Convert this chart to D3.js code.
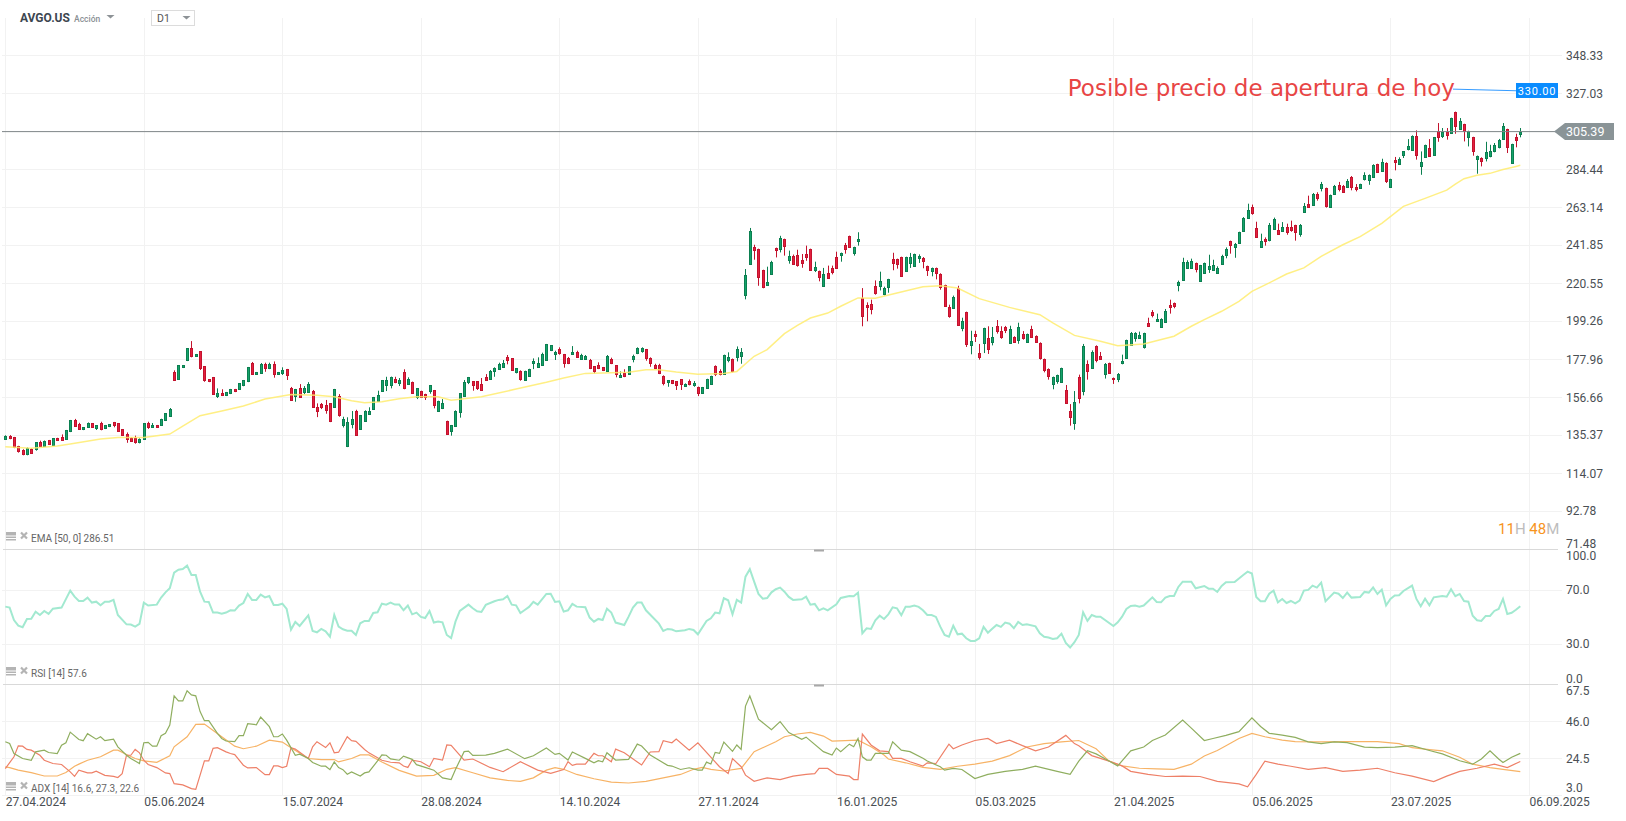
<!DOCTYPE html>
<html>
<head>
<meta charset="utf-8">
<title>AVGO.US</title>
<script src="https://cdn.jsdelivr.net/npm/d3@7"></script>
<style>
  html, body { margin: 0; background: #fff; }
  svg { display: block; }
  text { font-family: Roboto, sans-serif; }
</style>
</head>
<body>
<div id="chart"></div>
<script>
// open, high, low, close per daily candle
const candles = [
[133.5,135.2,133,135],[135,135.3,133,133.8],[134,134.3,128,128.4],[129,129.3,125.5,126],[127,127.4,124,124.6],[124.6,128.4,124,128.2],[127.8,128,125,125.6],[127,131.4,126.6,131.2],[131.4,132.2,128.8,129.2],[129.2,132.3,128.8,132],
[132.4,132.6,130,130.3],[129.7,133.7,129.5,133.5],[133.5,133.8,132,132.2],[134.2,135.7,132.2,132.5],[133.1,138.2,132.8,138],[137.2,143.8,137,143.6],[143.8,144.4,140.4,140.6],[141.5,142.2,138.2,138.7],[138.3,139.8,138.1,139.6],[139.5,142.4,139.3,141.9],
[141.9,142.1,139.3,139.5],[139.1,140.9,138.2,140.8],[141.9,142.8,138,138.7],[138.9,141,138.7,140.8],[140,141.5,139.8,141.3],[142.5,142.7,139.7,141],[141.9,142.1,137.4,137.6],[138.5,138.7,134.8,135],[135.7,136.8,131,132.9],[133.9,134.1,132,132.2],
[133.9,135,130.5,131.6],[131.6,133.5,130.7,133.3],[133,142.1,132.8,141.9],[142.1,142.8,138.8,139.7],[139.7,142.1,139.5,141],[140.8,141,139.3,139.5],[141.1,144.5,140.9,144.3],[143.4,147.7,143.2,147.5],[146.2,150.5,146,149.9],[170.7,171.6,166.2,166.4],
[166.4,174.6,166.2,174.4],[173.1,174.6,172.9,174.4],[177.2,184.1,176.8,183.9],[183.9,188,178.9,179.3],[179.3,180.8,179.1,180.6],[182.2,182.4,171.8,172.9],[173.8,174,165.2,165.8],[166.5,166.7,165,165.2],[167.7,167.9,157.8,158],[157,161.5,156.1,158.7],
[158.7,161,157.2,157.4],[157.4,159.5,157.2,159.3],[158.5,161.2,158.3,161],[161,161.2,159.4,159.6],[160.8,164.5,160.6,164.3],[163.4,166.2,162.7,166],[165.2,173.5,165,173.3],[175.7,176.3,169.5,169.7],[169.2,170.7,169,170.5],[170.3,175.7,170.1,175.1],
[175.1,175.9,170.8,173],[172.9,175.9,172.3,175],[175.1,176.6,167.5,169.7],[169.2,170.7,169,170.5],[170.3,173.3,169,171.8],[172.2,172.4,166.2,168.6],[161.7,162.3,155,155.2],[157.2,161.2,154,161],[161.7,163.9,156.6,156.8],[159.5,162.8,158.3,161.5],
[159.6,165,159.4,163.9],[159.8,160.6,150.5,150.7],[150.9,153.1,145.4,148.8],[152.5,153.3,149.9,151],[152,155,147.3,149.4],[153.1,153.3,142.6,142.8],[150.7,161.2,150.5,161],[157,158.3,145.6,146.2],[141,145.6,139.6,144.3],[128.8,145.3,128.6,142.5],
[141.3,148.8,139.1,144.3],[148.8,149.5,135.3,135.5],[138.7,146.6,138.2,146.4],[143.4,149.2,143.2,149],[146.9,150.9,146.7,148.8],[149.9,156.7,149.7,156.5],[154.4,160.2,154.2,157.8],[160,166.2,159.8,166],[163.4,168,160,166.2],[163.4,168.1,161.5,167.9],
[166.5,168,164.4,164.9],[164.5,167.3,162.8,166.2],[170.5,172.2,161,161.5],[163.9,167.7,163.7,166.5],[165.1,165.3,158.5,158.7],[156.5,161.7,155.5,161.5],[160,160.2,156.1,156.8],[158.3,158.5,155,156.5],[160,163.4,158.5,163.2],[160.4,160.6,150.3,152.2],
[149,154.6,148.8,154.4],[150.1,155.5,149.9,153.1],[143.2,143.4,135.8,136],[137.5,141,135,140.8],[140.6,149.2,140.4,149],[147.9,158.9,145.1,158.7],[157.2,166.2,157,165.2],[165,167.9,163.9,167.7],[165.4,165.6,160.2,163.4],[165.4,165.6,160.6,161.5],
[163.9,167.3,160.6,160.8],[167.9,169.5,166,166.2],[166.4,171.8,166.2,171],[171.2,173.3,168,173.1],[172.3,175.9,172.1,175.1],[173.6,177.4,173.4,175.7],[179.1,180.2,175,177.4],[178.3,178.5,171.6,171.8],[170.5,172.9,169.9,172.7],[171.4,171.6,165.8,166.7],
[166.4,171.4,166.2,171.2],[168.6,172.5,168.4,172.3],[175.3,178.3,172.3,176.6],[173.6,178.9,173.4,175.7],[174.8,181.5,174.6,180.7],[177.2,186.4,177,186.2],[182.6,185.8,182.4,185.6],[180.4,182.6,177.4,181.7],[183.5,184.5,180.4,181.3],[180.6,180.8,173.1,175.3],
[178.5,179.1,175.1,175.7],[180.4,185.2,180.2,181.7],[181.9,182.6,178.7,179.3],[178.1,180.9,177.9,180.2],[177.6,180.2,177.4,179.4],[177.4,178,172.3,172.9],[173.8,174,169.9,170.8],[174.4,176.1,172.3,172.5],[173.3,173.5,171.2,171.4],[171.4,180.2,171.2,179.6],
[177.8,178.7,175.1,175.7],[174.4,174.6,167.7,169.5],[167.5,171,167.3,168.8],[169.9,172.2,167.8,168],[169.4,173.8,169.2,173.8],[178.1,180.4,176.1,179.6],[180.9,184.5,180.7,183.9],[182.2,184.5,181.5,183.9],[183.4,183.6,177,178.1],[178.5,178.9,173.6,175.9],
[174.6,175.3,172.3,172.9],[174.6,175.3,169.5,169.9],[168.2,168.8,163.2,164.1],[164.7,166.2,162.4,166],[166,166.2,163.9,164.5],[165.4,165.6,160.6,163],[166.5,166.7,160.6,163.6],[163,164.3,162.4,164.1],[165.6,166.5,163.2,164.1],[163,165.6,162.4,164.3],
[162.3,162.5,157.2,158.9],[158.7,162.3,158.5,162.1],[161.9,166.9,161.7,166.7],[163.7,168.6,163.5,168.4],[174.2,174.4,168.4,169.7],[171.4,172.2,168.8,169.7],[169.7,180.4,169.5,180.2],[177.8,181.7,176.1,179.3],[178,178.2,170.5,171.4],[178.9,185,176.6,183.6],
[179.4,184.1,175.3,181.9],[213.7,228.4,211.4,225],[231,251.4,230.8,249.7],[240.9,242,233.6,239.4],[239.6,239.8,219,223.7],[227.8,228,217.6,218.1],[219.6,229.7,219,221.1],[226,233,225.6,232.5],[240.2,240.4,234.9,238.9],[239.4,247,237.7,245.8],
[245.2,245.4,235.9,241.1],[233.8,238.7,231.4,235.9],[235.9,236.5,231.4,231.6],[236.2,239.2,229.7,230.8],[233.6,236.8,229.1,232.1],[237,241.5,233,235.3],[239.6,239.8,227.6,228],[228.2,232.5,226.7,229.7],[227.3,227.5,221.5,223.7],[219.2,229,219,225.8],
[226.2,230.3,223,223.5],[229.1,230.3,225.4,226.9],[235.1,238.1,228.6,228.8],[236.1,237.6,232.5,237.4],[242,243,237,240],[246.9,247.1,240.3,240.5],[237.5,240.9,235.9,240.7],[243.9,249,241.5,245.2],[212.2,217.7,196.3,201.9],[208.2,209.7,199.1,206.9],
[208.8,211.2,203,205.8],[218.9,222,214,214.8],[218.7,226.9,216.4,221.7],[214.2,218.5,213.6,217.7],[218.5,222.9,215.1,222.8],[234,237.5,227.7,231.6],[234,234.2,228.6,231],[235.1,235.3,224.1,224.3],[227.1,235.3,226.9,235.1],[231.6,237.4,229,235.1],
[229.9,237,229.7,236.8],[234.4,236.6,231.8,235.7],[234.6,235.1,228.8,232.7],[230.1,230.3,224.5,227.7],[227.1,229.2,224.3,229],[229,229.2,222.6,226],[225.8,226,216.8,218.7],[219.4,219.6,207.3,207.5],[207.1,208.4,201.1,201.9],[206.4,213.5,206.2,212.7],
[217.7,219,196.6,196.8],[195.2,201.1,193.5,199.3],[204.3,204.5,184.7,186.5],[185.8,193.8,180.6,188],[191.9,193.8,187.5,190.6],[181.3,186.4,177.6,178.9],[186.7,195.5,181.3,195.3],[189.7,196.3,180.8,183.8],[187.9,195.9,185.6,190.5],[196.6,199.8,192.2,194],
[193.8,196.3,189.3,190.5],[196,196.5,192.5,194.4],[187.3,196.6,187.1,195],[190.5,190.7,187.3,187.7],[188.9,198.3,186.5,196],[192.2,193.6,188.8,189.9],[187.7,192.2,187.3,192],[195,196.6,190.4,190.6],[191,191.2,187.7,187.9],[187.1,187.3,177.6,178.9],
[178,178.2,170.5,171.6],[172.5,172.7,166.4,168.8],[163.8,168.1,161,167.9],[165.8,169.2,164.1,169],[164.9,173.1,164.7,172.9],[160.8,163.4,153.5,153.7],[149,152.7,140.6,145.8],[141.9,160,138.3,153.9],[167.9,169.2,153.1,155.9],[160.4,186.4,157.6,185.4],
[175.3,177.2,166.4,171.6],[173.3,182.8,173.1,182.1],[185.4,185.6,176.1,177.8],[179.8,181.9,178,178.3],[169.9,175.7,167,175.3],[175.7,175.9,170.1,170.3],[167.1,167.6,164,166.3],[166.9,170.1,165,169.5],[175.5,180.4,175,176.9],[178.7,188.8,178.3,188.6],
[186.2,193.1,186,192.7],[189.9,193,187.7,192.7],[190.1,193.3,189.9,191.6],[184.7,192.7,183.8,192.5],[198.1,201.1,196.3,196.6],[204.5,205.4,201.3,203],[199.1,203.4,198.9,200.4],[195.7,200.8,195.5,200.4],[198.5,206,198.3,204.9],[208.2,211.2,203.4,206.9],
[209.4,209.6,206.4,207.5],[219.2,221.9,215.9,221.1],[222,234.7,221.8,232.3],[229.3,233.3,228.4,232.5],[229,234.2,228.4,232.9],[231.8,232,226.5,228.2],[221.7,230.7,221.5,230.5],[226,232,225.8,231.8],[228.6,236.4,226.2,230.1],[227.8,233.6,227.6,230.6],
[226.2,229.9,226,229],[231.4,236.4,230.8,235.7],[236,240.5,234.4,239.6],[244.1,244.3,237,241.7],[240.5,243,234.7,242.4],[242.8,249.3,242.6,249.1],[249.7,257.5,249.5,257],[257.4,265,257.2,261.7],[263.1,264.5,258.8,259.6],[251.4,254.9,245.9,246.1],
[241.1,248.2,240.9,244.3],[245.4,246.1,241.5,244.1],[244.8,254.2,243.9,253.2],[250.6,257.2,250.4,256.4],[250.4,253.8,248.2,248.4],[249.5,254.7,249.3,251.9],[251.9,253.8,247.6,249],[251.9,255.5,249.3,250.4],[253,253.2,244.3,249.3],[248.4,253.6,246.5,253.2],
[260.7,265.4,260.5,263.9],[265,269.5,263.3,263.5],[264.6,271,263.9,270.6],[270.6,271.4,266.7,268.4],[274.2,277.2,271.9,276.2],[273.8,274,262.8,263.9],[263,270.1,262.8,269.9],[270.2,275.5,270,274.9],[275.7,277.2,271.9,273.4],[274.9,275.5,271.2,271.4],
[274.2,278.8,274,277.7],[280,280.5,272.5,274.2],[274.3,276,271.9,272.9],[273.6,276.2,273.4,276],[279.2,282.6,278,281.2],[278.4,281.4,275.6,281.2],[280.1,287.1,279.9,286.9],[287.2,287.4,282.4,282.6],[283.1,290.2,282.9,288.4],[288,288.2,276.6,278],
[274.3,279,274.1,278.8],[289.6,291.2,283.7,288.2],[287.4,291,287.2,290.2],[291.9,294.5,290.6,294.3],[295.6,301.2,294.9,297.5],[295.3,303.3,295.1,303.1],[303.1,306.1,289.7,292.5],[285.9,294.3,281.2,288.4],[291.3,298.1,291.1,297.9],[296.2,301.2,291.5,291.7],
[292.1,302.4,291.9,302.2],[305.9,310.2,299.7,302.7],[302.9,307.4,301.8,305],[305,307.4,300.9,303.1],[304.4,313.2,304.2,313],[316.4,316.6,304.2,308.3],[307.2,313,307,311.5],[309.6,309.8,299.9,305.5],[302.2,305.9,297.1,305.7],[302.3,302.5,291.9,294.3],
[290,292,281.8,291.5],[290.4,291,285.9,288.5],[291,299.7,288.7,294.1],[291.9,298,291,294.7],[294.3,299,293.8,297.9],[297.1,301.3,296,300.9],[301.6,310.2,301.4,308.7],[306.8,307,293.4,296.6],[287.6,298.6,287.4,298.4],[302.5,304.2,296.6,301],
[304.4,307.4,302.2,305.39]
];

// 50 day EMA as [candle, price]
const emaPoints = [[0,128.8],[6,127.9],[12,129.2],[15,130.3],[22,133.1],[26,133.9],[32,134],[38,135.9],[41,140.4],[45,146.2],[50,148.8],[55,151.6],[60,155.5],[66,158],[72,157.6],[76,156.8],[80,154.6],[83,153.5],[87,154],[91,155.7],[95,156.8],[100,156.8],[103,154.8],[110,156.8],[118,161.1],[125,164.9],[129,167.3],[134,169.9],[140,170.3],[144,170.5],[148,172],[151,172],[155,170.7],[160,169.4],[166,169.9],[169,171],[173,179.5],[176,183.2],[180,192.2],[183,196.8],[186,200.9],[190,203.7],[193,207.5],[197,212.2],[201,212],[206,214.9],[212,218.5],[216,219],[220,217.7],[225,211.8],[232,206.9],[239,202.8],[242,198.2],[247,191.2],[253,187.9],[257,185.4],[263,186.4],[270,190.7],[274,196.3],[277,200],[281,204.7],[285,210.3],[288,215.9],[292,220.6],[296,225.6],[300,229],[304,235.5],[309,242],[313,246.5],[318,254],[323,263.5],[328,268],[333,272.6],[335,276],[337,279],[340,280.9],[343,282],[346,284.2],[349,285.9],[350,286.51]];

// RSI 14 as [candle, value]
const rsiPoints = [[0,57.3],[1,56.6],[2,47.4],[3,43.2],[4,42],[5,48.2],[6,48.4],[7,53.6],[8,51.1],[9,54.1],[10,51.9],[11,55.8],[13,56.6],[15,69.2],[16,64.7],[17,61.5],[18,61.5],[19,64],[20,60.3],[21,61],[22,58.3],[23,61],[24,61],[25,62.3],[26,51.1],[28,44.2],[29,44],[30,42.5],[31,44.5],[32,60.3],[33,58.1],[35,58.8],[36,64],[37,67.9],[38,70.9],[39,82.5],[40,84.7],[41,85.2],[42,87.7],[43,80.8],[44,80.8],[45,68.4],[46,61],[47,60.8],[48,52.9],[49,52.9],[50,52.1],[51,52.9],[52,54.6],[53,54.4],[54,58.1],[55,60],[56,66.7],[57,62.3],[58,62.3],[59,66.2],[60,64.2],[61,65.2],[62,58.6],[63,58.6],[64,59.5],[65,55.6],[66,40.3],[67,46],[68,43],[70,50.9],[71,39.3],[72,38.3],[73,40.8],[74,39],[75,35.1],[76,51.1],[77,42.5],[78,40.5],[79,39.5],[80,39.5],[81,36.3],[82,45],[83,46.7],[84,46.7],[85,52.6],[86,53.1],[87,59.5],[88,58.8],[89,60.3],[90,58.8],[91,58.8],[92,54.6],[93,58.1],[94,51.6],[95,52.9],[96,49.7],[97,48.9],[98,54.1],[99,45.5],[100,46.2],[101,45.7],[102,36.3],[103,34],[104,46.2],[105,54.1],[107,58.8],[108,56.1],[109,53.9],[110,53.4],[111,58.6],[113,61.3],[114,62.3],[115,62.7],[116,65.2],[117,58.8],[118,58.3],[119,52.6],[120,54.8],[121,57.1],[122,60.8],[123,58.8],[125,66.7],[126,66.9],[127,60.8],[128,61.3],[129,53.6],[130,54.6],[131,59.3],[132,57.3],[134,56.8],[135,49.2],[136,46.2],[137,48.2],[138,47.4],[139,55.8],[140,52.9],[141,45.5],[143,43.7],[144,49.9],[145,56.6],[146,60.3],[147,60.3],[148,54.6],[151,44.7],[152,39.3],[153,40.8],[154,40.3],[155,39],[157,39.8],[158,40.8],[159,40],[160,36.8],[162,46.7],[163,48.7],[164,52.9],[165,52.4],[166,63.5],[167,62],[168,51.6],[169,62.3],[170,60.3],[171,79.5],[172,85],[173,75.8],[174,66.7],[175,63.2],[176,63.7],[177,67.9],[178,70.2],[179,71.4],[180,68.4],[181,64.5],[182,62.3],[184,62.7],[185,64.7],[186,58.8],[187,59.3],[188,54.6],[189,56.1],[190,54.6],[192,59],[193,63.7],[195,65.2],[196,65],[197,67.7],[198,37.6],[199,41.3],[200,40.8],[201,47.2],[202,50.6],[203,48.2],[204,51.6],[205,56.8],[206,56.1],[207,50.9],[208,57.3],[209,57.3],[210,58.1],[211,57.1],[212,54.6],[213,51.1],[214,51.1],[215,49.7],[216,42.5],[217,36.3],[218,35],[219,43.2],[220,36.8],[221,37.3],[222,33.9],[223,31.9],[224,31.9],[225,33.9],[226,42.3],[227,38],[228,41],[229,43.7],[230,42.3],[231,45.5],[232,44.7],[233,41.3],[234,46],[235,43.7],[236,44.2],[238,42.7],[239,37.6],[240,35],[241,34.4],[242,33.4],[243,33.9],[244,37.3],[245,30.5],[246,27],[247,31],[248,36.3],[249,53.1],[250,46.7],[251,51.1],[252,49.9],[253,49.9],[256,43],[257,45.7],[258,49.9],[259,55.6],[260,57.8],[261,58.1],[262,57.3],[263,58.1],[265,64.2],[266,60.8],[267,60.5],[268,64],[269,65.2],[270,65.2],[271,71.9],[272,75.8],[274,75.8],[275,70.9],[277,72.6],[278,70.6],[279,70.6],[280,68.2],[281,72.6],[282,75.3],[284,75.6],[286,80.8],[287,83.2],[288,81.8],[289,64.5],[290,61.3],[291,61.3],[292,66.9],[293,69.2],[294,60.5],[295,63],[296,60],[297,61.5],[298,59.8],[299,61.8],[300,69.2],[301,69.7],[302,72.9],[303,71.4],[304,75.1],[305,61.3],[307,67.7],[308,66.9],[309,63.7],[310,67.7],[311,64],[313,64.5],[314,68.2],[315,67.7],[316,71.6],[317,66.7],[318,69.9],[319,58.3],[320,63],[321,65.5],[322,65.7],[323,68.9],[325,72.9],[326,63],[327,57.6],[328,63.2],[329,58.3],[330,64.2],[332,65.2],[333,64.7],[334,70.2],[335,65],[336,66.7],[337,61.5],[338,61],[339,50.6],[340,47.2],[341,46.7],[342,50.4],[343,50.4],[344,54.1],[345,55.6],[346,63],[347,51.9],[348,52.8],[349,55],[350,57.6]];

// ADX 14 lines as [candle, value]
const adxGreen = [[0,34.1],[1,33.1],[2,27.2],[4,24.3],[6,23.3],[7,28.2],[9,29.2],[10,27.8],[12,27.2],[13,32.1],[14,33.5],[15,39.7],[17,35.4],[18,34.7],[19,38.8],[21,35.6],[22,37],[23,34.7],[25,35.6],[26,31.1],[28,26.2],[29,24.3],[31,21.4],[32,33.5],[33,33.7],[34,31.5],[35,31.5],[36,37.6],[37,39],[38,43.8],[39,60.9],[40,57.9],[41,57.9],[42,63.8],[43,61.4],[44,60.9],[45,51.7],[46,46.4],[47,46.4],[49,39],[50,36],[51,34.5],[53,34.1],[54,37.6],[55,37.6],[56,44.6],[58,44],[59,48.5],[61,42.9],[62,37],[63,37],[64,38.6],[65,35],[67,26.2],[68,26.8],[70,24.3],[71,22],[73,19.8],[74,19.8],[75,17.8],[76,22.3],[77,19],[78,17.8],[79,15.1],[80,16.5],[82,14.1],[83,15.9],[84,16.5],[86,22.9],[87,26.4],[88,26.2],[89,24.1],[91,23.3],[92,25.7],[94,23.8],[95,20.7],[97,19.1],[99,17.5],[101,13],[103,12],[104,17.9],[106,28.3],[107,28.6],[108,26.1],[111,26.3],[113,27.3],[116,29.8],[120,24.2],[122,25.9],[125,30.4],[127,26.7],[128,27.3],[130,23.4],[131,28.1],[134,24.4],[136,21.8],[137,23],[138,22.4],[139,27.7],[141,23.4],[144,23.8],[146,32.7],[147,31.6],[149,26.3],[153,20.3],[154,19.9],[156,17.9],[158,18.9],[160,17.5],[161,17.5],[162,22.2],[163,21.1],[164,27.9],[165,27.3],[166,33.9],[168,28.5],[169,32.2],[170,29.6],[171,54.9],[172,60.8],[174,47.3],[177,41.1],[179,45.8],[181,39.4],[184,35.5],[185,36.8],[189,28.3],[191,26.3],[192,30.4],[193,28.3],[195,32.7],[196,31.2],[197,36],[198,25.3],[199,23.4],[200,23.4],[201,27.3],[204,27.3],[205,34.1],[207,29.2],[209,28.3],[212,24.4],[213,22.8],[216,19.5],[217,17.5],[219,18.5],[221,17.9],[224,12.6],[227,15],[231,16.8],[235,18],[238,19.8],[243,16.8],[246,15],[248,22.8],[250,28.8],[252,27],[255,22.8],[257,20],[260,28.8],[263,31],[265,34.8],[268,38],[272,46.8],[274,42],[277,34.8],[279,36],[282,37.8],[285,40],[288,48],[290,43],[292,39],[295,38],[298,36.6],[301,34],[304,33],[307,34],[310,33.6],[314,31],[317,30.6],[321,31],[325,31.8],[329,29],[332,27],[336,23],[339,21],[341,24],[343,28.8],[345,24],[346,22],[348,25],[350,27.3]];
const adxRed = [[0,18.4],[2,25.3],[3,31.7],[4,31.5],[5,29.6],[6,29.2],[8,26.2],[9,23.3],[11,21.4],[13,20.8],[15,16.5],[16,13.9],[17,17.5],[19,15.9],[20,15.9],[21,16.9],[23,14.5],[25,13.9],[26,13.2],[27,15.5],[28,26.2],[29,26.2],[30,29.6],[31,27.6],[32,23.3],[33,20.8],[35,19],[37,15.9],[38,15.5],[39,9.6],[41,8.9],[43,6.7],[44,6.3],[46,22.9],[47,22.9],[48,30.2],[49,30.6],[51,28.2],[52,27.2],[53,26.6],[55,20.4],[56,18.8],[58,19],[60,14.9],[61,14.9],[62,20],[63,20],[64,19],[65,19.8],[66,30.6],[67,29.8],[70,24.3],[71,31.1],[72,34.1],[74,30.7],[75,33.5],[76,27.6],[77,28],[79,37],[80,34.7],[81,34.3],[83,29.6],[84,27.6],[87,23.3],[89,22.1],[91,21.8],[92,19.9],[93,19.1],[94,23.4],[96,22.4],[98,19.5],[99,24.4],[101,23.4],[102,32.2],[103,32],[106,23.4],[108,24],[112,19.1],[115,16.6],[119,22.4],[123,17.5],[126,15.6],[129,17.9],[130,22.4],[131,20.3],[132,21],[134,21],[136,27.3],[137,25.9],[138,25.9],[140,22.4],[141,29.8],[143,27.7],[147,20.5],[149,28.1],[151,28.3],[152,34.7],[154,33.5],[155,35.7],[158,29.2],[160,33.5],[165,19.5],[167,15.6],[168,24.2],[170,19.5],[171,14.6],[173,11],[176,13],[179,12],[182,14],[185,15],[187,15.5],[188,18.5],[190,18.5],[192,15],[195,14],[196,12],[197,12],[198,38.6],[200,32.2],[202,28.8],[204,28.3],[205,24.4],[207,24.4],[209,22.4],[212,19.9],[213,21.8],[215,21.4],[218,32.7],[219,30],[221,32.2],[224,34.8],[227,36],[229,33],[232,35],[235,31.8],[238,28.8],[241,31],[245,37.8],[247,33],[248,31.8],[251,26],[255,22.8],[258,20],[260,16.8],[264,15],[268,13.8],[272,14],[276,13.8],[280,11],[285,9.5],[287,7.8],[289,15],[291,22.8],[294,21],[297,19.8],[301,18],[305,19],[309,16.8],[313,17.5],[317,18.6],[321,16],[325,14],[330,10.8],[333,14],[336,16.8],[340,18.6],[344,21],[347,19],[350,22.6]];
const adxOrange = [[0,19.4],[1,19],[3,17.5],[6,16.1],[9,14.1],[12,14.1],[14,16.1],[16,19.8],[17,21],[19,23.3],[22,25.3],[25,29.2],[26,29.2],[28,26.6],[30,24.3],[32,22.9],[35,22.1],[38,25.9],[39,31.1],[42,37],[44,44.2],[46,44.4],[47,42.5],[50,37],[53,31.5],[55,30],[58,31.5],[61,35],[64,33.9],[66,30.6],[70,24.3],[73,23.7],[76,23.7],[77,22.3],[80,24.3],[82,26.4],[84,26.4],[87,22.3],[91,17.4],[95,14],[99,14.5],[102,18],[104,19],[108,16],[112,13],[116,11.5],[119,11],[122,13],[125,17.5],[127,19],[129,18],[132,15],[136,12.5],[140,10.5],[144,10],[148,11],[152,13],[156,15],[159,18],[161,19.1],[163,18],[166,17],[170,18.5],[173,28.3],[178,34.1],[180,37],[183,38.6],[186,39.5],[189,37.4],[191,34.5],[197,35],[200,31.2],[203,26.3],[204,24],[208,21.8],[212,19.1],[216,18],[220,19.8],[224,21],[228,22.8],[232,26],[236,31],[240,33],[244,34],[248,34.8],[252,30],[255,22.8],[258,20],[262,18.6],[266,18.2],[270,18],[274,21],[277,25.8],[280,29],[282,31.8],[285,36],[288,39],[291,37],[295,35],[298,34.2],[304,34],[310,34.2],[317,34.2],[322,33],[325,30.6],[329,29.5],[332,28.8],[336,25],[339,21],[343,19],[346,18],[350,16.6]];

const priceTicks = [348.33, 327.03, 284.44, 263.14, 241.85, 220.55, 199.26, 177.96, 156.66, 135.37, 114.07, 92.78, 71.48];
const priceGridOnly = [305.74];
const rsiTicks = [100, 70, 30, 0];
const adxTicks = [67.5, 46, 24.5, 3];
const dateLabels = ["27.04.2024", "05.06.2024", "15.07.2024", "28.08.2024", "14.10.2024", "27.11.2024", "16.01.2025", "05.03.2025", "21.04.2025", "05.06.2025", "23.07.2025", "06.09.2025"];
const candlesPerDate = 32;
const lastPrice = 305.39;
const noteText = "Posible precio de apertura de hoy";
const notePrice = 330;
const noteLine = [[1453, 329.2], [1516, 328.3]]; // [x, price] of the hand drawn pointer

const width = 1626, height = 821;
const svg = d3.select("#chart").append("svg").attr("width", width).attr("height", height);

const x = d3.scaleLinear().domain([0, 350]).range([5.3, 1520.3]);
const yPrice = d3.scaleLinear().domain([348.33, 71.48]).range([55, 549]);
const yRsi = d3.scaleLinear().domain([100, 0]).range([549, 684]);
const yAdx = d3.scaleLinear().domain([67.5, 3]).range([684.5, 795]);

// grid
const grid = svg.append("g").attr("stroke", "#f2f2f2").attr("stroke-width", 1);
const hLine = (y) => grid.append("line").attr("x1", 2).attr("x2", 1562)
    .attr("y1", Math.round(y) + 0.5).attr("y2", Math.round(y) + 0.5);
priceTicks.slice(0, -1).concat(priceGridOnly).forEach(v => hLine(yPrice(v)));
[70, 30].forEach(v => hLine(yRsi(v)));
[46, 24.5, 3].forEach(v => hLine(yAdx(v)));
dateLabels.forEach((d, k) => {
    const gx = Math.round(x(k * candlesPerDate)) + 0.5;
    grid.append("line").attr("x1", gx).attr("x2", gx).attr("y1", 18).attr("y2", 795);
});

// panel separators
[549, 684].forEach(py => {
    svg.append("line").attr("x1", 3).attr("x2", 1558).attr("y1", py + 0.5).attr("y2", py + 0.5)
        .attr("stroke", "#d9d9d9").attr("stroke-width", 1.2);
    svg.append("rect").attr("x", 814).attr("y", py + 0.5).attr("width", 10).attr("height", 2).attr("fill", "#a8a8a8");
});

// candles
const candleG = svg.append("g").selectAll("g").data(candles).join("g")
    .attr("transform", (d, i) => `translate(${Math.round(x(i))},0)`);
const colorUp = "#0b7f50", colorDown = "#c3122d";
candleG.append("rect")
    .attr("x", 0).attr("width", 1)
    .attr("y", d => yPrice(d[1]))
    .attr("height", d => yPrice(d[2]) - yPrice(d[1]))
    .attr("fill", d => d[3] >= d[0] ? colorUp : colorDown);
candleG.append("rect")
    .attr("x", -0.5).attr("width", 2)
    .attr("y", d => Math.round(yPrice(Math.max(d[0], d[3]))) + 0.5)
    .attr("height", d => Math.max(1, Math.round(yPrice(Math.min(d[0], d[3])) - yPrice(Math.max(d[0], d[3])))))
    .attr("fill", d => d[3] >= d[0] ? "#14a36b" : "#e3203f")
    .attr("stroke", d => d[3] >= d[0] ? colorUp : colorDown)
    .attr("stroke-width", 1);

// ema
const priceLine = d3.line().x(d => x(d[0])).y(d => yPrice(d[1]));
svg.append("path").datum(emaPoints).attr("d", priceLine)
    .attr("fill", "none").attr("stroke", "#ffec6e").attr("stroke-width", 1.5).attr("opacity", 0.85);

// last price line and tag
svg.append("line").attr("x1", 2).attr("x2", 1556)
    .attr("y1", yPrice(lastPrice)).attr("y2", yPrice(lastPrice))
    .attr("stroke", "#7f8688").attr("stroke-width", 1);
const lastY = yPrice(lastPrice);
svg.append("polygon")
    .attr("points", `1554,${lastY} 1565,${lastY - 8.5} 1614,${lastY - 8.5} 1614,${lastY + 8.5} 1565,${lastY + 8.5}`)
    .attr("fill", "#8a9497");
svg.append("text").attr("x", 1566).attr("y", lastY + 4.5).attr("font-size", 12.5)
    .attr("fill", "#fff").text(d3.format(".2f")(lastPrice));

// annotation
svg.append("text").attr("x", 1455).attr("y", 96).attr("text-anchor", "end")
    .style("font-family", "'DejaVu Sans'").attr("font-size", 23).attr("fill", "#e84545").text(noteText);
svg.append("line")
    .attr("x1", noteLine[0][0]).attr("y1", yPrice(noteLine[0][1]))
    .attr("x2", noteLine[1][0]).attr("y2", yPrice(noteLine[1][1]))
    .attr("stroke", "#1e90ff").attr("stroke-width", 0.9);
svg.append("rect").attr("x", 1516).attr("y", 83).attr("width", 42).attr("height", 15).attr("fill", "#0a8cff");
svg.append("text").attr("x", 1537).attr("y", 94.5).attr("text-anchor", "middle").attr("font-size", 11)
    .attr("letter-spacing", 0.8).attr("fill", "#fff").text(d3.format(".2f")(notePrice));

// rsi panel
svg.append("path").datum(rsiPoints)
    .attr("d", d3.line().x(d => x(d[0])).y(d => yRsi(d[1])))
    .attr("fill", "none").attr("stroke", "#a2e9d0").attr("stroke-width", 2);

// adx panel
const adxLine = d3.line().x(d => x(d[0])).y(d => yAdx(d[1]));
[[adxOrange, "#f7b366"], [adxRed, "#ee8068"], [adxGreen, "#8fae5f"]].forEach(([pts, color]) => {
    svg.append("path").datum(pts).attr("d", adxLine)
        .attr("fill", "none").attr("stroke", color).attr("stroke-width", 1.2);
});

// right axes
function rightAxis(scale, values, fmt, nudge) {
    const g = svg.append("g").attr("transform", "translate(1566,0)")
        .call(d3.axisRight(scale).tickValues(values).tickSize(0).tickPadding(0).tickFormat(d3.format(fmt)));
    g.select(".domain").remove();
    g.selectAll("text").attr("font-size", 12).attr("fill", "#4a4f54").style("font-family", "Roboto")
        .attr("dy", d => (nudge[d] || 0) + 4);
}
rightAxis(yPrice, priceTicks, ".2f", { 71.48: -6 });
rightAxis(yRsi, rsiTicks, ".1f", { 100: 6, 0: -6 });
rightAxis(yAdx, adxTicks, ".1f", { 67.5: 6, 3: -8 });

// date axis
const dateAxis = svg.append("g").attr("transform", "translate(0,795)")
    .call(d3.axisBottom(x).tickValues(dateLabels.map((d, k) => k * candlesPerDate)).tickSize(0).tickPadding(2)
        .tickFormat((d, k) => dateLabels[k]));
dateAxis.select(".domain").remove();
dateAxis.selectAll("text").attr("text-anchor", "start").attr("font-size", 12).attr("fill", "#4a4f54").style("font-family", "Roboto");

// indicator captions
function caption(y, label) {
    svg.append("rect").attr("x", 6).attr("y", y - 8).attr("width", 10).attr("height", 3.5).attr("fill", "#b4b4b4");
    svg.append("rect").attr("x", 6).attr("y", y - 3.5).attr("width", 10).attr("height", 1.5).attr("fill", "#b4b4b4");
    svg.append("rect").attr("x", 6).attr("y", y - 1).attr("width", 10).attr("height", 1.5).attr("fill", "#b4b4b4");
    svg.append("path").attr("d", `M21 ${y - 7.5}L27 ${y - 1.5}M27 ${y - 7.5}L21 ${y - 1.5}`)
        .attr("stroke", "#b4b4b4").attr("stroke-width", 2.2);
    svg.append("text").attr("x", 31).attr("y", y + 2).attr("font-size", 10).attr("fill", "#666").text(label);
}
caption(540, "EMA  [50,  0]  286.51");
caption(675, "RSI  [14]  57.6");
caption(790, "ADX  [14]  16.6,  27.3,  22.6");

// countdown
const countdown = svg.append("text").attr("x", 1498).attr("y", 534).attr("font-size", 15);
[["11", "#f7941d"], ["H ", "#bdbdbd"], ["48", "#f7941d"], ["M", "#bdbdbd"]].forEach(([t, c]) => {
    countdown.append("tspan").attr("fill", c).text(t);
});

// header
svg.append("text").attr("x", 20).attr("y", 22).attr("font-size", 12).attr("font-weight", 700).attr("fill", "#3c4650").text("AVGO.US");
svg.append("text").attr("x", 74).attr("y", 22).attr("font-size", 8.5).attr("font-weight", 500).attr("fill", "#8a8f94").text("Acción");
svg.append("polygon").attr("points", "106.5,15 114.5,15 110.5,18.5").attr("fill", "#8d9296");
svg.append("rect").attr("x", 151.5).attr("y", 10.5).attr("width", 43).attr("height", 15).attr("fill", "#fff").attr("stroke", "#dcdcdc");
svg.append("text").attr("x", 157).attr("y", 22).attr("font-size", 10.5).attr("fill", "#555").text("D1");
svg.append("polygon").attr("points", "182.5,16 190.5,16 186.5,19.5").attr("fill", "#8d9296");
</script>
</body>
</html>
